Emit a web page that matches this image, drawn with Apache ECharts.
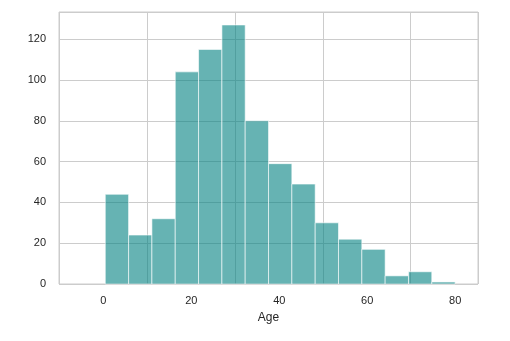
<!DOCTYPE html>
<html>
<head>
<meta charset="utf-8">
<script src="https://cdn.jsdelivr.net/npm/echarts@6/dist/echarts.min.js"></script>
<style>
  html, body { margin: 0; padding: 0; background: #ffffff; }
  #chart { width: 510px; height: 341px; }
</style>
</head>
<body>
<div id="chart"></div>
<script>
// Age histogram: 15 equal-width bins spanning 0.42 .. 80
const binEdges = [0.42, 5.73, 11.03, 16.34, 21.64, 26.95, 32.25, 37.56, 42.86,
                  48.17, 53.47, 58.78, 64.08, 69.39, 74.69, 80.0];
const counts = [44, 24, 32, 104, 115, 127, 80, 59, 49, 30, 22, 17, 4, 6, 1];
const xTicks = [0, 20, 40, 60, 80];
const yTicks = [0, 20, 40, 60, 80, 100, 120];

const bins = counts.map((c, i) => [binEdges[i], binEdges[i + 1], c]);

const chart = echarts.init(document.getElementById('chart'), null, { renderer: 'canvas' });

const labelFont = { fontFamily: 'Liberation Sans, Arial, sans-serif', fontSize: 11, color: '#262626' };

chart.setOption({
  animation: false,
  backgroundColor: '#ffffff',
  grid: {
    left: 59, right: 32, top: 12, bottom: 57,
    show: true, borderColor: '#cccccc', borderWidth: 1, backgroundColor: 'transparent'
  },
  xAxis: {
    type: 'value',
    min: -10.1, max: 85.2,
    name: 'Age',
    nameLocation: 'middle',
    nameGap: 28,
    nameTextStyle: { fontFamily: 'Liberation Sans, Arial, sans-serif', fontSize: 12, color: '#262626' },
    axisLine: { show: false },
    axisTick: { show: false },
    axisLabel: Object.assign({
      margin: 11,
      customValues: xTicks,
      showMinLabel: true, showMaxLabel: true
    }, labelFont),
    splitLine: { show: true, lineStyle: { color: '#cccccc', width: 1 } },
    interval: 20
  },
  yAxis: {
    type: 'value',
    min: 0, max: 133.35,
    interval: 20,
    axisLine: { show: false },
    axisTick: { show: false },
    axisLabel: Object.assign({
      margin: 13,
      formatter: v => (yTicks.indexOf(v) >= 0 ? String(v) : '')
    }, labelFont),
    splitLine: { show: true, lineStyle: { color: '#cccccc', width: 1 } }
  },
  series: [{
    type: 'custom',
    data: bins,
    encode: { x: [0, 1], y: 2 },
    renderItem: function (params, api) {
      const p0 = api.coord([api.value(0), 0]);
      const p1 = api.coord([api.value(1), api.value(2)]);
      return {
        type: 'rect',
        shape: { x: p0[0], y: p1[1], width: p1[0] - p0[0], height: p0[1] - p1[1] },
        style: { fill: '#008080', stroke: '#ffffff', lineWidth: 1, opacity: 0.6 }
      };
    }
  }]
});
</script>
</body>
</html>
